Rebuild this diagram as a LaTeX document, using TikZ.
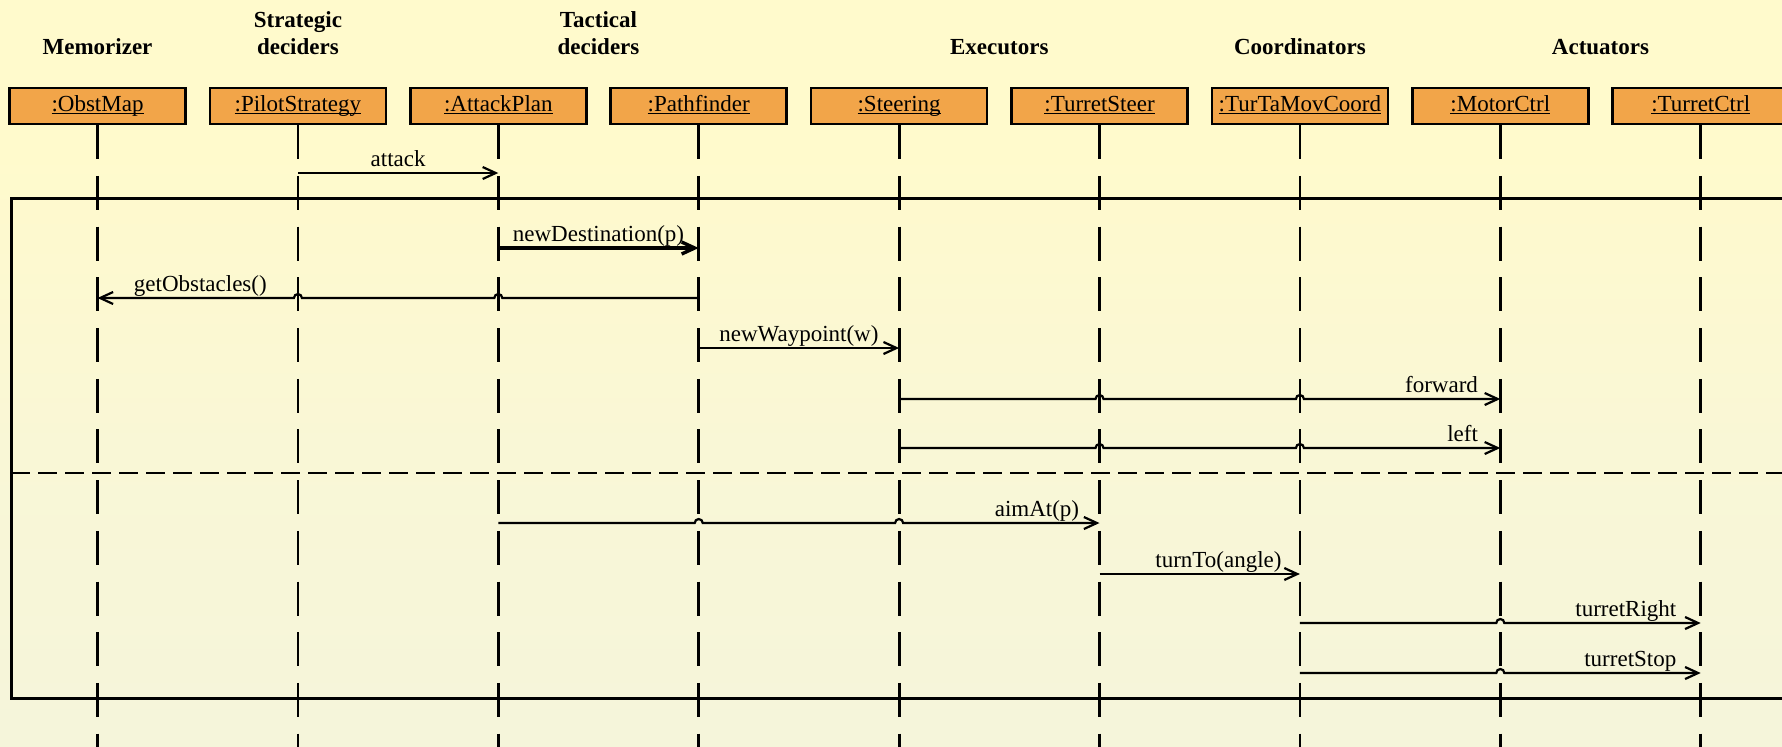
\documentclass[tikz,border=0pt]{standalone}
\usepackage{fontspec}
\setmainfont{Liberation Serif}
\usetikzlibrary{arrows.meta,calc}

\definecolor{bgtop}{RGB}{255,250,204}
\definecolor{bgmid}{RGB}{249,247,214}
\definecolor{bgbot}{RGB}{240,242,224}
\definecolor{objfill}{RGB}{242,165,73}
\pgfdeclareverticalshading{paper}{100bp}{color(0bp)=(bgbot); color(45bp)=(bgmid); color(65bp)=(bgtop); color(100bp)=(bgtop)}

\begin{document}
\begin{tikzpicture}[x=0.5pt,y=-0.5pt,
  every node/.style={font=\fontsize{11.5}{12}\selectfont, inner sep=0pt},
  obj/.style={draw=black, line width=1.25pt, fill=objfill, minimum width=88pt,
    minimum height=18pt, text height=8pt, text depth=3pt},
  group/.style={font=\bfseries\fontsize{11.5}{13.5}\selectfont, align=center,
    anchor=south, text depth=0pt},
  lifeline/.style={line width=1.4pt, dash pattern=on 17pt off 8.35pt},
  frame/.style={line width=1.5pt},
  divider/.style={line width=1.4pt, dash pattern=on 9.5pt off 4pt},
  msg/.style={line width=1.1pt, -{Straight Barb[length=6.5pt,width=6pt]}},
  boldmsg/.style={msg, line width=1.7pt},
  lbl/.style={anchor=base}]

% canvas
\useasboundingbox (0,0) rectangle (1782,746);
\clip (0,0) rectangle (1782,746);
\shade[shading=paper] (0,0) rectangle (1782,746);

% object heads
\node[obj] (obst)   at (97.5,106)  {\underline{\smash{:ObstMap}}};
\node[obj] (pilot)  at (297.9,106) {\underline{\smash{:PilotStrategy}}};
\node[obj] (attp)   at (498.3,106) {\underline{\smash{:AttackPlan}}};
\node[obj] (pathf)  at (698.7,106) {\underline{\smash{:Pathfinder}}};
\node[obj] (steer)  at (899.1,106) {\underline{\smash{:Steering}}};
\node[obj] (tsteer) at (1099.5,106) {\underline{\smash{:TurretSteer}}};
\node[obj] (coord)  at (1299.9,106) {\underline{\smash{:TurTaMovCoord}}};
\node[obj] (motor)  at (1500.3,106) {\underline{\smash{:MotorCtrl}}};
\node[obj] (tctrl)  at (1700.7,106) {\underline{\smash{:TurretCtrl}}};

% layer headings
\node[group] (gmem)  at (97.5,55)  {Memorizer};
\node[group] (gstr)  at (297.9,55) {Strategic\\deciders};
\node[group] (gtac)  at (598.5,55) {Tactical\\deciders};
\node[group] (gexe)  at (999.3,55) {Executors};
\node[group] (gcoo)  at (1299.9,55) {Coordinators};
\node[group] (gact)  at (1600.5,55) {Actuators};

% combined fragment
\draw[frame] (1800,198) -- (11,198) -- (11,698) -- (1800,698);
\draw[divider] (11,473) -- (1800,473);

% message end points
\coordinate (m1s) at (pilot |- 0,173);  \coordinate (m1e) at (attp |- 0,173);
\coordinate (m2s) at (attp |- 0,248);   \coordinate (m2e) at (pathf |- 0,248);
\coordinate (m3s) at (pathf |- 0,298);  \coordinate (m3e) at (obst |- 0,298);
\coordinate (m4s) at (pathf |- 0,348);  \coordinate (m4e) at (steer |- 0,348);
\coordinate (m5s) at (steer |- 0,399);  \coordinate (m5e) at (motor |- 0,399);
\coordinate (m6s) at (steer |- 0,448);  \coordinate (m6e) at (motor |- 0,448);
\coordinate (m7s) at (attp |- 0,523);   \coordinate (m7e) at (tsteer |- 0,523);
\coordinate (m8s) at (tsteer |- 0,574); \coordinate (m8e) at (coord |- 0,574);
\coordinate (m9s) at (coord |- 0,623);  \coordinate (m9e) at (tctrl |- 0,623);
\coordinate (m10s) at (coord |- 0,673); \coordinate (m10e) at (tctrl |- 0,673);

% messages
\draw[msg] (m1s) -- (m1e);
\node[lbl] (l1) at ($(m1s)!0.5!(m1e)+(0,-7)$) {attack};

\draw[boldmsg] (m2s) -- (m2e);
\node[lbl] (l2) at ($(m2s)!0.5!(m2e)+(0,-7)$) {newDestination(p)};

\draw[msg] (m3s) -- ($(attp |- m3s)+(4,0)$) arc[start angle=0,end angle=-180,radius=4]
  -- ($(pilot |- m3s)+(4,0)$) arc[start angle=0,end angle=-180,radius=4] -- (m3e);
\node[lbl, anchor=base west] (l3) at ($(m3e)+(36,-7)$) {getObstacles()};

\draw[msg] (m4s) -- (m4e);
\node[lbl] (l4) at ($(m4s)!0.5!(m4e)+(0,-7)$) {newWaypoint(w)};

\draw[msg] (m5s) -- ($(tsteer |- m5s)+(-4,0)$) arc[start angle=180,end angle=360,radius=4]
  -- ($(coord |- m5s)+(-4,0)$) arc[start angle=180,end angle=360,radius=4] -- (m5e);
\node[lbl, anchor=base east] (l5) at ($(m5e)+(-22,-7)$) {forward};

\draw[msg] (m6s) -- ($(tsteer |- m6s)+(-4,0)$) arc[start angle=180,end angle=360,radius=4]
  -- ($(coord |- m6s)+(-4,0)$) arc[start angle=180,end angle=360,radius=4] -- (m6e);
\node[lbl, anchor=base east] (l6) at ($(m6e)+(-22,-7)$) {left};

\draw[msg] (m7s) -- ($(pathf |- m7s)+(-4,0)$) arc[start angle=180,end angle=360,radius=4]
  -- ($(steer |- m7s)+(-4,0)$) arc[start angle=180,end angle=360,radius=4] -- (m7e);
\node[lbl, anchor=base east] (l7) at ($(m7e)+(-20,-7)$) {aimAt(p)};

\draw[msg] (m8s) -- (m8e);
\node[lbl, anchor=base east] (l8) at ($(m8e)+(-18,-7)$) {turnTo(angle)};

\draw[msg] (m9s) -- ($(motor |- m9s)+(-4,0)$) arc[start angle=180,end angle=360,radius=4] -- (m9e);
\node[lbl, anchor=base east] (l9) at ($(m9e)+(-24,-7)$) {turretRight};

\draw[msg] (m10s) -- ($(motor |- m10s)+(-4,0)$) arc[start angle=180,end angle=360,radius=4] -- (m10e);
\node[lbl, anchor=base east] (l10) at ($(m10e)+(-24,-7)$) {turretStop};

% lifelines
\foreach \o in {obst,pilot,attp,pathf,steer,tsteer,coord,motor,tctrl}
  \draw[lifeline] (\o.south) -- (\o.south |- 0,760);

\end{tikzpicture}
\end{document}
